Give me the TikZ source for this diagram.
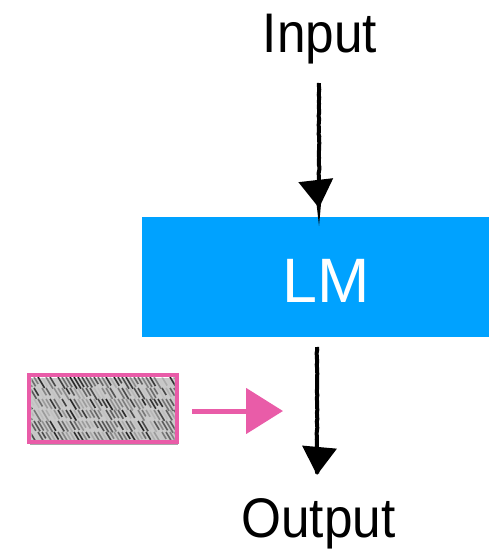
\documentclass[tikz,border=0pt]{standalone}
\usepackage{fontspec}
\setmainfont{Liberation Sans}
\usetikzlibrary{arrows.meta,shadows,decorations.pathmorphing}
\definecolor{lmblue}{RGB}{0,162,255}
\definecolor{hotpink}{RGB}{233,92,168}
\begin{document}
\begin{tikzpicture}[x=1bp,y=-1bp,
  lbl/.style={font=\fontsize{56}{60}\selectfont, inner sep=0pt, anchor=base, xscale=0.92, transform shape},
  lmbox/.style={fill=lmblue, draw=none, minimum width=347bp, minimum height=120bp, inner sep=0pt},
  sketcharrow/.style={line width=4bp, draw=black, decorate, decoration={random steps,segment length=3bp,amplitude=0.4bp},
     -{Triangle[width=34bp,length=28bp]}},
  pinkarrow/.style={line width=5bp, draw=hotpink, -{Triangle[width=45bp,length=37bp]}},
  imgframe/.style={draw=hotpink, line width=4.5bp, fill=white, minimum width=148bp, minimum height=67bp, inner sep=0pt,
     drop shadow={shadow xshift=1bp, shadow yshift=-3bp, opacity=0.35, fill=black!60}}
]
\useasboundingbox (0,0) rectangle (489,549);

\node[lbl] (input) at (320,53) {Input};
\node[lbl] (output) at (318.5,537) {Output};
\node[lmbox] (box) at (315.5,277) {};
\node[text=white, font=\fontsize{63}{66}\selectfont, inner sep=0pt, anchor=base] (lmtext) at (326,302) {LM};

% image placeholder
\node[imgframe] (img) at (103,408.5) {};
\begin{scope}
  \clip (31.5,377.5) rectangle (174.5,439.5);
  \fill[white] (31.5,377.5) rectangle (174.5,439.5);
  \pgfmathsetseed{3}
  \foreach \r in {377,388,399,410,421,432}{
    \foreach \c in {22,26,...,178}{
      \pgfmathsetmacro{\g}{int(100*rnd)}
      \pgfmathsetmacro{\h}{6+6*rnd}
      \draw[black!\g, line width=1.6bp] (\c,\r) -- ++(\h*0.6,\h);
    }
  }
\end{scope}
\node[imgframe, fill=none, drop shadow={opacity=0}] (imgb) at (103,408.5) {};

% arrows
\coordinate (a1s) at (319,83);
\coordinate (a1e) at (319,208);
\coordinate (a2s) at (317,347);
\coordinate (a2e) at (317,475);
\coordinate (p1e) at (283,411);
\draw[sketcharrow] (a1s) -- (a1e);
\draw[sketcharrow] (a2s) -- (a2e);
\draw[pinkarrow] (img.east |- p1e) ++(13,0) -- (p1e);
\end{tikzpicture}
\end{document}
